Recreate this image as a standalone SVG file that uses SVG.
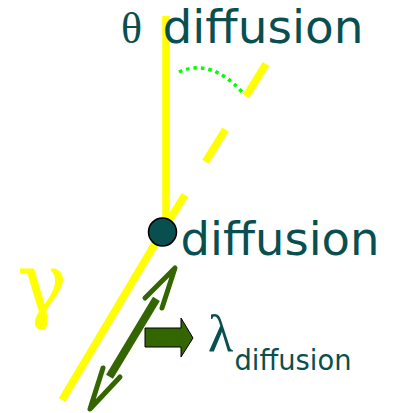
<svg xmlns="http://www.w3.org/2000/svg" width="404" height="413" viewBox="0 0 404 413">
  <style>
    .yl { stroke: #ffff00; stroke-width: 7.5; fill: none; }
    .lbl { fill: #0a4f4f; font-family: "DejaVu Sans", Verdana, sans-serif; }
    .greek { font-family: "Liberation Serif", "Times New Roman", serif; }
    .dg { stroke: #336600; fill: none; }
  </style>
  <rect width="404" height="413" fill="#ffffff"/>
  <g id="connectors">
    <line class="yl" x1="166" y1="16" x2="166" y2="232"/>
    <line class="yl" x1="266" y1="64" x2="162" y2="232" stroke-dasharray="38 39"/>
    <line class="yl" x1="162" y1="232" x2="62" y2="400"/>
    <path d="M179,72 Q211,57.5 243,93" stroke="#00ff00" stroke-width="3.5" fill="none" stroke-dasharray="3.5 4"/>
    <g id="double-arrow">
      <line class="dg" x1="156.4" y1="298.9" x2="109.5" y2="376.8" stroke-width="8"/>
      <polyline class="dg" points="145,298 175,268 162,308" stroke-width="5" stroke-linecap="round" stroke-linejoin="round"/>
      <polyline class="dg" points="103,368 90,409 120,377" stroke-width="5" stroke-linecap="round" stroke-linejoin="round"/>
    </g>
    <polygon id="block-arrow" points="145,328 181,328 181,318 193,338 181,357 181,347 145,347" fill="#336600" stroke="#000000" stroke-width="1"/>
  </g>
  <g id="theta-label">
    <text class="lbl greek" x="121" y="43" font-size="44">θ</text>
    <text class="lbl" x="162.5" y="43" font-size="47" textLength="201" lengthAdjust="spacingAndGlyphs">diffusion</text>
  </g>
  <g id="point">
    <circle cx="162.5" cy="232" r="14" fill="#0a4f4f" stroke="#000000" stroke-width="1.5"/>
    <text class="lbl" x="180.5" y="255" font-size="47" textLength="199" lengthAdjust="spacingAndGlyphs">diffusion</text>
  </g>
  <g id="gamma">
    <text x="17" y="312" font-size="84" fill="#ffff00" font-family="'DejaVu Serif', serif">γ</text>
  </g>
  <g id="lambda">
    <text class="lbl greek" x="208" y="351" font-size="52">λ</text>
    <text class="lbl" x="234.5" y="370" font-size="27.5" textLength="117" lengthAdjust="spacingAndGlyphs">diffusion</text>
  </g>
</svg>
